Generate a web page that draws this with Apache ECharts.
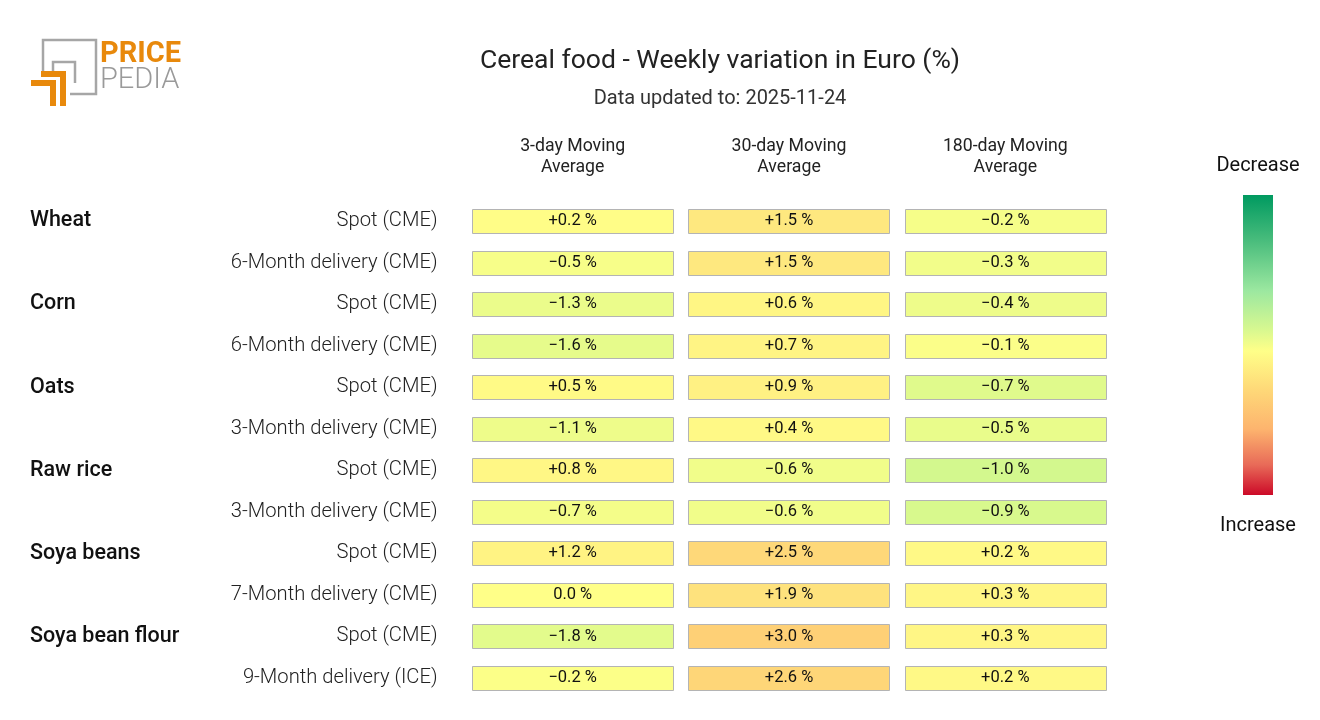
<!DOCTYPE html>
<html>
<head>
<meta charset="utf-8">
<script src="https://cdn.jsdelivr.net/npm/echarts@6/dist/echarts.min.js"></script>
<style>html,body{margin:0;padding:0;background:#fff}#c{width:1320px;height:720px}</style>
</head>
<body>
<div id="c"></div>
<script>
const columns = ['3-day Moving\nAverage', '30-day Moving\nAverage', '180-day Moving\nAverage'];
const groups = ['Wheat', '', 'Corn', '', 'Oats', '', 'Raw rice', '', 'Soya beans', '', 'Soya bean flour', ''];
const rows = ['Spot (CME)', '6-Month delivery (CME)', 'Spot (CME)', '6-Month delivery (CME)', 'Spot (CME)', '3-Month delivery (CME)', 'Spot (CME)', '3-Month delivery (CME)', 'Spot (CME)', '7-Month delivery (CME)', 'Spot (CME)', '9-Month delivery (ICE)'];
const ma3 = [0.2, -0.5, -1.3, -1.6, 0.5, -1.1, 0.8, -0.7, 1.2, 0.0, -1.8, -0.2];
const ma30 = [1.5, 1.5, 0.6, 0.7, 0.9, 0.4, -0.6, -0.6, 2.5, 1.9, 3.0, 2.6];
const ma180 = [-0.2, -0.3, -0.4, -0.1, -0.7, -0.5, -1.0, -0.9, 0.2, 0.3, 0.3, 0.2];
const colRange = [12, 8, 4.3];

const palette = ['#009a60', '#40b878', '#90e29a', '#d0f88e', '#ffff88', '#fee07c', '#fdbf70', '#ee8a60', '#cc0a28'];
const FONT = 'Roboto, "Noto Sans", sans-serif';

function fmt(v) {
  if (v > 0) return '+' + v.toFixed(1) + ' %';
  if (v < 0) return '\u2212' + Math.abs(v).toFixed(1) + ' %';
  return '0.0 %';
}

const allCols = [ma3, ma30, ma180];

function renderItem(params, api) {
  const c = api.coord([api.value(0), api.value(1)]);
  const s = api.size([1, 1]);
  const w = s[0] * 0.93, h = s[1] * 0.58;
  const v = api.value(2);
  return {
    type: 'group',
    children: [
      { type: 'rect', shape: { x: Math.round(c[0] - w / 2) + 0.5, y: Math.round(c[1] - h / 2) + 0.5, width: Math.round(w), height: Math.round(h) },
        style: { fill: api.visual('color'), stroke: '#b4b4b4', lineWidth: 1 } },
      { type: 'text', x: c[0], y: c[1], style: { text: fmt(v), fill: '#111', font: '16.5px ' + FONT, align: 'center', verticalAlign: 'middle' } }
    ]
  };
}

const series = allCols.map((arr, ci) => ({
  type: 'custom',
  renderItem: renderItem,
  encode: { x: 0, y: 1 },
  data: arr.map((v, ri) => [ci, ri, v]),
  xAxisIndex: 0,
  yAxisIndex: 0
}));

const visualMap = allCols.map((arr, ci) => ({
  show: false,
  type: 'continuous',
  seriesIndex: ci,
  dimension: 2,
  min: -colRange[ci],
  max: colRange[ci],
  inRange: { color: palette }
}));

const chart = echarts.init(document.getElementById('c'));
chart.setOption({
  backgroundColor: '#fff',
  animation: false,
  title: {
    text: 'Cereal food - Weekly variation in Euro (%)',
    subtext: 'Data updated to: 2025-11-24',
    left: 715, top: 43, textAlign: 'center',
    textStyle: { fontFamily: FONT, fontSize: 26.5, fontWeight: 'normal', color: '#222' },
    subtextStyle: { fontFamily: FONT, fontSize: 20, color: '#333' },
    itemGap: 14
  },
  grid: { left: 464.5, top: 200.25, width: 649, height: 498.5 },
  xAxis: {
    type: 'category', position: 'top', data: columns,
    axisLine: { show: false }, axisTick: { show: false }, splitLine: { show: false },
    axisLabel: { margin: 22, fontFamily: FONT, fontSize: 17.7, color: '#222', lineHeight: 21 }
  },
  yAxis: [
    { type: 'category', data: rows, inverse: true,
      axisLine: { show: false }, axisTick: { show: false }, splitLine: { show: false },
      axisLabel: { margin: 27, fontFamily: FONT, fontSize: 20.2, color: '#222', fontWeight: 300, padding: [4, 0, 0, 0] } },
    { type: 'category', data: groups, inverse: true, position: 'left',
      axisLine: { show: false }, axisTick: { show: false }, splitLine: { show: false },
      axisLabel: { margin: 434.5, align: 'left', fontFamily: FONT, fontSize: 21.5, color: '#111', fontWeight: 500, padding: [0, 0, 12, 0] } }
  ],
  visualMap: visualMap,
  series: series,
  graphic: [
    // logo
    { type: 'polyline', shape: { points: [[43, 72], [43, 40], [96, 40], [96, 94], [70, 94]] }, style: { stroke: '#a6a6a6', lineWidth: 2.5, fill: null } },
    { type: 'polyline', shape: { points: [[53, 71], [53, 62], [75, 62], [75, 83]] }, style: { stroke: '#a6a6a6', lineWidth: 2.5, fill: null } },
    { type: 'polygon', shape: { points: [[41, 71], [66, 71], [66, 106], [60, 106], [60, 77], [41, 77]] }, style: { fill: '#e8890c' } },
    { type: 'polygon', shape: { points: [[31, 80], [56, 80], [56, 106], [50, 106], [50, 86], [31, 86]] }, style: { fill: '#e8890c' } },
    { type: 'text', x: 100, y: 40, style: { text: 'PRICE', font: 'bold 29px ' + FONT, fill: '#e8890c' } },
    { type: 'text', x: 100, y: 66, style: { text: 'PEDIA', font: '300 29px ' + FONT, fill: '#9a9a9a' } },
    // colour bar legend
    { type: 'rect', shape: { x: 1243, y: 195, width: 30, height: 300 },
      style: { fill: new echarts.graphic.LinearGradient(0, 0, 0, 1, [
        { offset: 0, color: '#009a60' }, { offset: 0.15, color: '#48bc7c' }, { offset: 0.32, color: '#9ce8a0' },
        { offset: 0.45, color: '#d8f890' }, { offset: 0.52, color: '#ffff88' }, { offset: 0.65, color: '#fed878' },
        { offset: 0.78, color: '#fdb46e' }, { offset: 0.9, color: '#e86a58' }, { offset: 1, color: '#cc0a28' }]) } },
    { type: 'text', x: 1258, y: 166, style: { text: 'Decrease', font: '20px ' + FONT, fill: '#111', align: 'center', verticalAlign: 'middle' } },
    { type: 'text', x: 1258, y: 526, style: { text: 'Increase', font: '20px ' + FONT, fill: '#111', align: 'center', verticalAlign: 'middle' } }
  ]
});
</script>
</body>
</html>
